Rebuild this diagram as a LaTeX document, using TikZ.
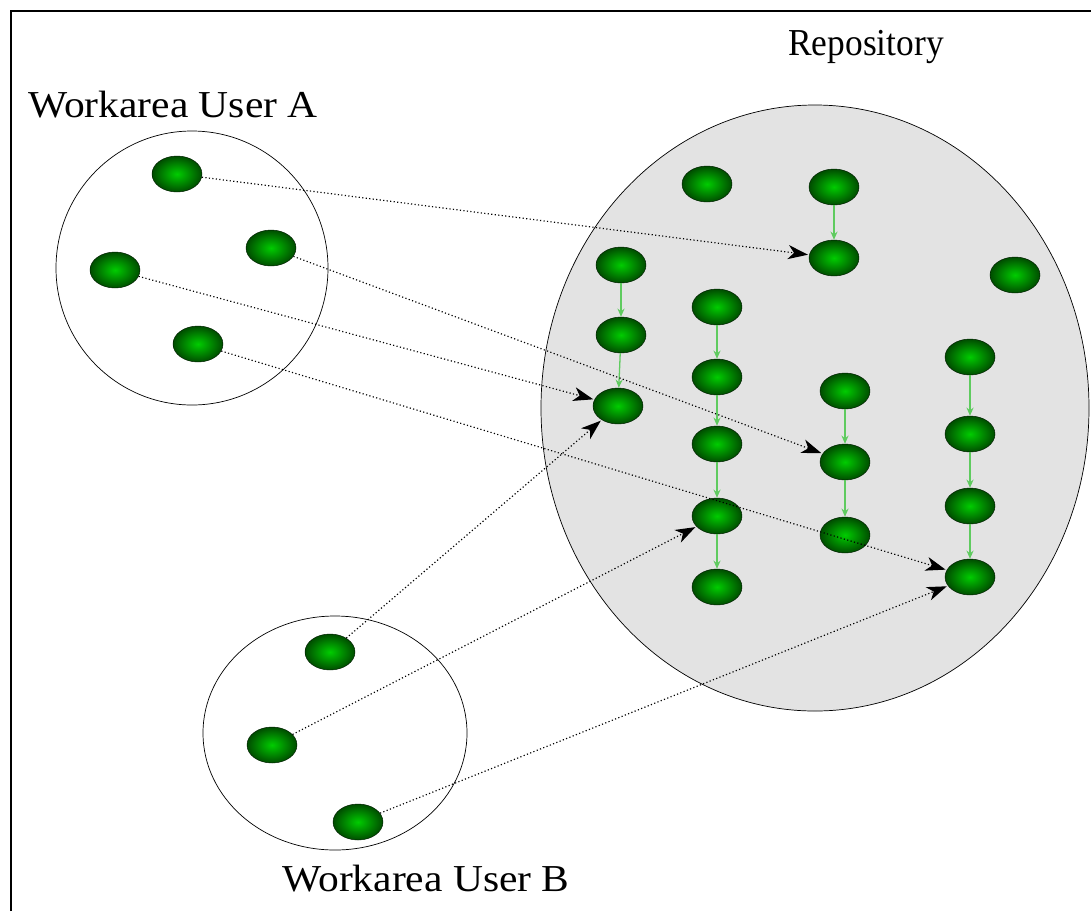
\documentclass[tikz,border=0pt]{standalone}
\usepackage{fontspec}
\setmainfont{Liberation Serif}
\usetikzlibrary{shapes.geometric,arrows.meta}
\definecolor{repofill}{HTML}{E3E3E3}
\definecolor{chainarrow}{HTML}{5FCB5F}
\tikzset{
  obj/.style={ellipse, minimum width=1.5cm, minimum height=1.08cm, inner sep=0pt,
    draw=black!60!green!30!black, line width=0.4pt,
    shading=radial, inner color=green!80!black, outer color=green!30!black},
  area/.style={draw=black, line width=0.6pt},
  checkin/.style={dotted, line width=1pt, black,
    -{Stealth[length=17pt, width=12pt, inset=5pt]}, shorten >=1pt},
  chain/.style={chainarrow, line width=1.1pt, -{Stealth[length=7pt, width=6pt]}},
  lbl/.style={font=\fontsize{32.5}{36}\selectfont, anchor=base, inner sep=0pt}
}
\begin{document}
\begin{tikzpicture}[x=0.03cm, y=-0.03cm]
\useasboundingbox (0,0) rectangle (1091,911);
\fill[white] (0,0) rectangle (1091,911);
% frame
\draw[line width=1.6pt] (11,911) -- (11,11) -- (1091,11);

% areas
\draw[area, fill=repofill] (815,408) ellipse [x radius=274, y radius=303];
\draw[area, fill=white] (192,268) ellipse [x radius=136, y radius=137];
\draw[area, fill=white] (335,733) ellipse [x radius=132, y radius=117];

% labels
\node[lbl] (tRepo) at (866,55) {\scalebox{0.93}[1]{Repository}};
\node[lbl] (tA) at (173,117) {\scalebox{1.09}[1]{Workarea User A}};
\node[lbl] (tB) at (426,891) {\scalebox{1.09}[1]{Workarea User B}};

% workarea A objects
\node[obj] (a1) at (177,174) {};
\node[obj] (a2) at (115,270) {};
\node[obj] (a3) at (271,248) {};
\node[obj] (a4) at (198,344) {};

% workarea B objects
\node[obj] (b1) at (330,652) {};
\node[obj] (b2) at (272,745) {};
\node[obj] (b3) at (358,822) {};

% repository objects
\node[obj] (s1) at (707,184) {};
\node[obj] (s2) at (1015,275) {};
\node[obj] (p1) at (834,187) {};
\node[obj] (p2) at (834,258) {};
\node[obj] (c1) at (621,265) {};
\node[obj] (c2) at (621,335) {};
\node[obj] (c3) at (618,406) {};
\node[obj] (d1) at (717,307) {};
\node[obj] (d2) at (717,377) {};
\node[obj] (d3) at (717,444) {};
\node[obj] (d4) at (717,516) {};
\node[obj] (d5) at (717,587) {};
\node[obj] (e1) at (845,391) {};
\node[obj] (e2) at (845,462) {};
\node[obj] (e3) at (845,535) {};
\node[obj] (f1) at (970,357) {};
\node[obj] (f2) at (970,434) {};
\node[obj] (f3) at (970,506) {};
\node[obj] (f4) at (970,577) {};

% version chains
\draw[chain] (p1) -- (p2);
\draw[chain] (c1) -- (c2);
\draw[chain] (c2) -- (c3);
\draw[chain] (d1) -- (d2);
\draw[chain] (d2) -- (d3);
\draw[chain] (d3) -- (d4);
\draw[chain] (d4) -- (d5);
\draw[chain] (e1) -- (e2);
\draw[chain] (e2) -- (e3);
\draw[chain] (f1) -- (f2);
\draw[chain] (f2) -- (f3);
\draw[chain] (f3) -- (f4);

% check-ins from the workareas
\draw[checkin] (a1) -- (p2);
\draw[checkin] (a3) -- (e2);
\draw[checkin] (a2) -- (c3);
\draw[checkin] (a4) -- (f4);
\draw[checkin] (b1) -- (c3);
\draw[checkin] (b2) -- (d4);
\draw[checkin] (b3) -- (f4);
\end{tikzpicture}
\end{document}
